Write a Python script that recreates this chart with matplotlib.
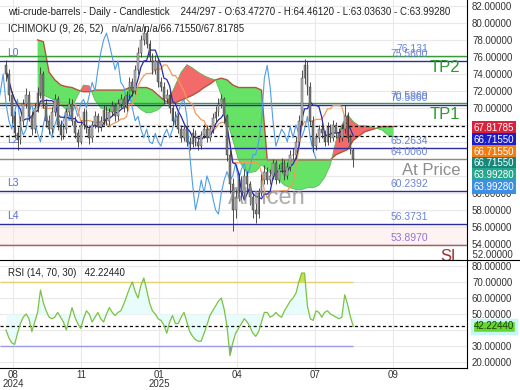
import numpy as np
import pandas as pd
import matplotlib
matplotlib.use("Agg")
import matplotlib.pyplot as plt
from matplotlib.lines import Line2D
from matplotlib.ticker import FormatStrFormatter

plt.rcParams['font.family'] = ['Liberation Sans', 'DejaVu Sans']

# candles (each one spans two trading days)
first_open = 75.0
closes = [74.0, 71.5, 69.0, 67.0, 66.2, 68.5, 70.5, 71.5, 69.0, 67.5,
          70.0, 71.8, 74.0, 70.5, 68.5, 67.5, 69.5, 71.0, 68.0, 66.8,
          67.5, 69.5, 70.5, 68.5, 67.0, 66.0, 68.0, 69.5, 67.5, 66.5,
          68.0, 69.0, 67.8, 68.5, 69.8, 68.5, 69.5, 70.2, 69.0, 70.5,
          71.0, 70.0, 71.5, 73.0, 72.0, 74.5, 76.5, 78.0, 78.8, 77.5,
          76.0, 74.5, 75.5, 73.0, 72.5, 71.0, 71.5, 70.0, 68.5, 69.0,
          67.5, 66.5, 67.5, 66.0, 65.8, 67.0, 66.0, 65.5, 66.8, 67.5,
          66.5, 67.5, 68.8, 69.5, 70.5, 71.0, 69.0, 64.5, 61.0, 58.0,
          59.5, 61.5, 60.0, 62.0, 61.0, 59.5, 58.0, 57.5, 60.0, 61.5,
          62.5, 61.5, 62.0, 63.5, 61.5, 62.8, 63.5, 62.0, 63.0, 64.5,
          64.5, 66.0, 68.5, 73.5, 75.0, 72.5, 68.5, 65.5, 66.5, 67.5,
          67.0, 66.0, 67.8, 66.5, 68.0, 67.0, 66.5, 67.5, 69.0, 66.5,
          65.0, 63.99]
highs = [75.6, 74.6, 72.0, 69.6, 67.8, 69.0, 71.0, 72.3, 72.0, 69.6,
         70.6, 72.5, 74.8, 74.3, 71.0, 69.2, 70.1, 71.6, 71.4, 68.6,
         68.2, 70.0, 71.2, 71.0, 69.0, 67.5, 68.6, 70.0, 69.9, 68.0,
         68.5, 69.6, 69.4, 69.0, 70.3, 70.2, 70.0, 70.8, 70.6, 71.0,
         71.6, 71.4, 72.0, 73.6, 73.5, 75.0, 77.2, 78.6, 79.6, 79.2,
         78.0, 76.5, 76.2, 75.8, 73.6, 73.0, 72.2, 72.0, 70.4, 69.6,
         69.4, 68.0, 68.0, 67.9, 66.6, 67.6, 67.4, 66.5, 67.3, 68.1,
         68.0, 68.0, 69.4, 70.2, 71.2, 71.6, 71.3, 69.3, 65.0, 61.8,
         60.5, 62.3, 62.0, 62.8, 62.6, 61.4, 60.0, 58.8, 60.6, 62.2,
         63.3, 63.0, 62.8, 64.0, 63.9, 63.4, 64.1, 63.9, 63.6, 65.0,
         65.3, 66.7, 69.2, 74.5, 75.8, 75.5, 73.0, 69.0, 67.0, 68.0,
         68.2, 67.4, 68.4, 68.1, 68.6, 68.4, 67.6, 68.1, 70.4, 69.5,
         66.9, 65.3]
lows = [73.2, 70.8, 68.2, 66.4, 65.1, 65.8, 68.0, 70.0, 68.5, 66.8,
        67.0, 69.5, 71.2, 70.0, 67.8, 66.9, 67.0, 69.0, 67.4, 66.2,
        66.3, 67.0, 69.0, 68.0, 66.5, 65.4, 65.7, 67.5, 67.0, 65.8,
        66.0, 67.6, 67.2, 67.3, 68.0, 68.0, 68.0, 69.0, 68.5, 68.6,
        70.0, 69.5, 69.6, 71.0, 71.4, 71.6, 74.0, 76.0, 77.4, 77.0,
        75.5, 74.0, 74.0, 72.5, 72.0, 70.5, 70.6, 69.4, 68.0, 68.0,
        67.0, 66.0, 66.1, 65.5, 65.1, 65.4, 65.5, 65.0, 65.2, 66.4,
        66.0, 66.1, 67.1, 68.4, 69.1, 70.0, 68.2, 63.8, 60.0, 55.5,
        57.0, 59.0, 59.2, 59.5, 60.2, 58.6, 57.0, 56.4, 57.0, 59.6,
        61.0, 61.0, 61.0, 61.6, 61.0, 61.2, 62.3, 61.5, 61.6, 62.6,
        64.0, 64.0, 65.6, 68.0, 72.8, 71.5, 68.0, 64.8, 65.0, 66.0,
        66.5, 65.5, 65.6, 66.0, 66.1, 66.5, 66.0, 66.1, 67.1, 66.0,
        64.6, 63.0]

rsi = [40, 35, 32, 31, 38, 44, 48, 50, 47, 39,
       45, 51, 65, 57, 52, 48, 47, 48, 51, 48,
       45, 40, 47, 54, 48, 44, 41, 47, 52, 50,
       45, 48, 51, 47, 45, 50, 54, 51, 49, 51,
       52, 56, 61, 66, 70, 64, 60, 68, 72.5, 65,
       57, 52, 50, 47, 46, 43, 38, 45, 49, 44,
       44, 48, 51, 45, 39, 36, 34, 33, 33, 38,
       43, 49, 52, 55, 58, 60, 53, 42, 24, 32,
       38, 41, 44, 47, 45, 42, 38, 36, 39, 45,
       51, 51, 48, 49, 51, 49, 48, 52, 55, 58,
       60, 63, 70, 75.6, 75.6, 55, 47, 46, 52, 51,
       48, 51, 52, 50, 49, 48, 47, 48, 62, 56,
       48, 42.2244]

# ichimoku cloud, every second candle starting at candle 11 (already shifted forward)
cloud_first = 11
span_a = [71.5, 71.5, 71.2, 70.9, 70.4, 69.8, 70.0, 71.5, 72.7, 72.6,
          70.9, 70.0, 69.8, 69.5, 69.8, 70.4, 70.9, 70.4, 69.8, 69.4,
          69.5, 69.8, 70.4, 71.2, 72.7, 74.2, 75.1, 74.7, 74.2, 73.8,
          73.5, 73.3, 71.5, 68.6, 66.2, 63.9, 62.7, 62.4, 62.5, 63.3,
          62.7, 62.1, 61.5, 60.9, 60.6, 60.4, 60.4, 60.6, 60.6, 60.9,
          61.8, 63.3, 66.2, 68.0, 69.2, 68.4, 67.9, 67.9, 67.8, 67.6,
          67.4, 66.8, 66.6]
span_b = [78.0, 77.8, 74.2, 73.3, 72.7, 72.5, 72.4, 72.1, 71.9, 71.9,
          72.1, 72.1, 72.1, 72.1, 72.1, 72.1, 72.4, 72.4, 72.4, 72.4,
          72.1, 71.5, 70.9, 70.6, 70.6, 70.9, 71.2, 71.5, 71.9, 72.4,
          72.8, 73.3, 73.5, 73.3, 72.7, 72.4, 72.4, 72.4, 72.4, 72.1,
          63.9, 63.9, 63.9, 63.9, 63.9, 63.9, 63.9, 63.9, 63.9, 63.9,
          63.9, 63.9, 64.5, 64.8, 65.1, 66.2, 66.7, 67.2, 67.4, 67.6,
          67.8, 67.8, 67.8]

# month starts, in candle units
month_pos = [2.4, 26.1, 53.3, 80.5, 107.7, 134.8]
month_labels = ['08\n2024', '11', '01\n2025', '04', '07', '09']

# horizontal levels: (value, colour, label, label colour)
levels = [
    (76.131, '#3c9a3c', '76.131', '#6a84d8'),
    (75.56, '#2c2c9c', '75.5600', '#6a84d8'),
    (70.5969, '#3c9a3c', '70.5969', '#6a84d8'),
    (70.40, '#2c2c9c', '70.5660', '#6a84d8'),
    (65.2634, '#2c2c9c', '65.2634', '#6a84d8'),
    (64.0060, '#9c8478', '64.0060', '#6a84d8'),
    (60.2392, '#2c2c9c', '60.2392', '#6a84d8'),
    (56.3731, '#2c2c9c', '56.3731', '#6a84d8'),
    (53.8970, '#b05a48', '53.8970', '#9c6fd0'),
]
big_tags = [(76.131, 'TP2', '#2e9a2e'), (70.5969, 'TP1', '#2e9a2e'),
            (64.0060, 'At Price', '#8c8c8c'), (53.8970, 'SL', '#a03030')]
left_tags = [(75.56, 'L0'), (65.2634, 'L2'), (60.2392, 'L3'), (56.3731, 'L4')]
cloud_now = [67.81785, 66.71550]

side_labels = [('67.81785', '#d8223c'), ('66.71550', '#1c1cc8'),
               ('66.71550', '#f07d12'), ('66.71550', '#17877b'),
               ('63.99280', '#26a68e'), ('63.99280', '#3d8fe6')]

closes = np.array(closes)
highs = np.array(highs)
lows = np.array(lows)
opens = np.r_[first_open, closes[:-1]]
idx = np.arange(len(closes))
span_a = np.array(span_a)
span_b = np.array(span_b)
cidx = np.arange(cloud_first, cloud_first + 2 * len(span_a), 2)
rsi = np.array(rsi)

hs, ls = pd.Series(highs), pd.Series(lows)
tenkan = (hs.rolling(5, min_periods=1).max() + ls.rolling(5, min_periods=1).min()) / 2
kijun = (hs.rolling(13, min_periods=1).max() + ls.rolling(13, min_periods=1).min()) / 2

W, H = 520, 390
fig = plt.figure(figsize=(W / 100, H / 100), dpi=100)
ax = fig.add_axes([0, 1 - 260 / H, 467 / W, 260 / H])
ax2 = fig.add_axes([0, 1 - 368 / H, 467 / W, 108 / H], sharex=ax)

xmin, xmax = -2.1, 160.6
ax.set_xlim(xmin, xmax)
ax.set_ylim(52.1, 82.7)
ax2.set_ylim(16.25, 83.75)

for a in (ax, ax2):
    a.set_xticks(month_pos)
    a.grid(True, color='#e9e9e9', lw=0.8, zorder=0)
    a.set_axisbelow(True)
    for s in ('top', 'left', 'bottom'):
        a.spines[s].set_visible(False)
    a.spines['right'].set_color('black')
    a.yaxis.tick_right()
    a.tick_params(axis='y', length=0, pad=3.6, labelsize=7, labelcolor='#333333')
    a.yaxis.set_major_formatter(FormatStrFormatter('%.5f'))
ax.tick_params(axis='x', length=0, labelbottom=False)
ax2.spines['bottom'].set_visible(True)
ax2.spines['bottom'].set_color('black')
ax2.set_xticklabels(month_labels)
ax2.tick_params(axis='x', length=0, pad=1.5, labelsize=7, labelcolor='#333333')
for lbl in ax2.get_xticklabels():
    lbl.set_linespacing(0.9)
ax.set_yticks(np.arange(54, 83, 2))
ax2.set_yticks([20, 30, 40, 50, 60, 70, 80])
ax.text(1.0, 52.1, '  52.00000', transform=ax.get_yaxis_transform(), fontsize=7,
        color='#333333', va='bottom', ha='left', clip_on=False)

# cloud
ax.fill_between(cidx, span_a, span_b, where=span_a >= span_b, interpolate=True,
                color='#f26a6a', lw=0, zorder=1)
ax.fill_between(cidx, span_a, span_b, where=span_a < span_b, interpolate=True,
                color='#66e266', lw=0, zorder=1)
ax.plot(cidx, span_b, color='#b5533c', lw=1.0, zorder=2)
ax.plot(cidx, span_a, color='#4cb84c', lw=0.5, zorder=2)

# levels
for val, col, lab, lcol in levels:
    ax.axhline(val, color=col, lw=1.0, zorder=3)
    ax.annotate(lab, xy=(147, val), xytext=(0, 2), textcoords='offset pixels',
                ha='right', va='bottom', fontsize=7.5, color=lcol, zorder=3)
ax.axhspan(53.897, 56.3731, color='#fdf3f3', lw=0, zorder=0.5)
for val, lab, col in big_tags:
    ax.annotate(lab, xy=(158.2, val), xytext=(0, -4), textcoords='offset pixels',
                ha='right', va='top', fontsize=12, color=col, zorder=3)
for val, lab in left_tags:
    ax.annotate(lab, xy=(0.4, val), xytext=(0, 3), textcoords='offset pixels',
                ha='left', va='bottom', fontsize=7.5, color='#5a6ed2', zorder=2)
for val in cloud_now:
    ax.axhline(val, color='black', lw=0.9, ls=(0, (2.5, 2)), zorder=3)

# ichimoku lines
ax.plot(idx - 13, closes, color='#4f9ee6', lw=0.8, zorder=4)
ax.plot(idx, kijun, color='#f39a5a', lw=0.9, zorder=4)
ax.plot(idx, tenkan, color='#2a2ab4', lw=0.9, zorder=4)

# candles
up = closes >= opens
ax.vlines(idx, lows, highs, color='#333333', lw=0.6, zorder=5)
ax.bar(idx, closes - opens, bottom=opens, width=0.6,
       color=np.where(up, '#b8b8b8', '#7a7a7a'), edgecolor='#333333', lw=0.3, zorder=6)

# watermark
ax.text(91, 59.4, 'Allncen', fontsize=17, color='#8a8a8a', alpha=0.7,
        ha='center', va='center', zorder=7)

# header texts
fig.text(8 / W, 1 - 12 / H, 'wti-crude-barrels - Daily - Candlestick    244/297 - O:63.47270 - '
         'H:64.46120 - L:63.03630 - C:63.99280', fontsize=7, color='#222222', va='center')
fig.text(8 / W, 1 - 29 / H, 'ICHIMOKU (9, 26, 52)   n/a/n/a/n/a/66.71550/67.81785',
         fontsize=7, color='#222222', va='center')

# right value tags
for k, (lab, col) in enumerate(side_labels):
    ax.annotate(lab, xy=(1.0, cloud_now[0]), xycoords=ax.get_yaxis_transform(),
                xytext=(7, -k * 11.8 - 1.5), textcoords='offset pixels',
                ha='left', va='center', fontsize=7, color='white', zorder=10,
                bbox=dict(boxstyle='square,pad=0.18', fc=col, ec='none'),
                annotation_clip=False)

# RSI panel
ax2.fill_between(idx, rsi, 50, color='#e8fcfc', lw=0, zorder=1)
ax2.hlines(70, xmin, idx[-1], color='#e2d272', lw=1.0, zorder=2)
ax2.hlines(30, xmin, idx[-1], color='#9a9ae6', lw=1.0, zorder=2)
ax2.fill_between(idx, rsi, 70, where=rsi > 70, interpolate=True, color='#c9e24c', lw=0, zorder=2)
ax2.fill_between(idx, rsi, 30, where=rsi < 30, interpolate=True, color='#7f7fd2', lw=0, zorder=2)
ax2.axhline(rsi[-1], color='black', lw=0.9, ls=(0, (2.5, 2)), zorder=3)
ax2.plot(idx, rsi, color='#7cc242', lw=0.9, zorder=4)
ax2.text(8 / 467, 1 - 13 / 108, 'RSI (14, 70, 30)   42.22440', transform=ax2.transAxes,
         fontsize=7, color='#222222', va='center')
ax2.annotate('42.22440', xy=(1.0, rsi[-1]), xycoords=ax2.get_yaxis_transform(),
             xytext=(7, 0), textcoords='offset pixels', ha='left', va='center',
             fontsize=7, color='#1d3a10', zorder=10,
             bbox=dict(boxstyle='square,pad=0.18', fc='#62d82a', ec='#c8f6f6', lw=2.5),
             annotation_clip=False)

fig.add_artist(Line2D([0, 1], [1 - 260 / H] * 2, color='black', lw=0.8))

fig.savefig('out.png', dpi=100)
